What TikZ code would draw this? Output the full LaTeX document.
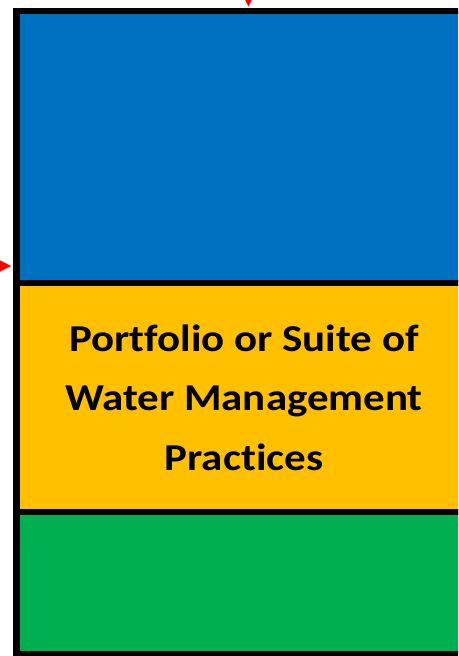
\documentclass[tikz,border=0pt]{standalone}
\usepackage{fontspec}
\setmainfont{Carlito}[FakeStretch=1.13, Ligatures={NoCommon}]
\usepackage{xcolor}
\usetikzlibrary{arrows.meta,positioning}

\definecolor{poolblue}{HTML}{0070C0}
\definecolor{poolyellow}{HTML}{FFC000}
\definecolor{poolgreen}{HTML}{00B050}
\definecolor{inred}{HTML}{FF0000}

\begin{document}
\begin{tikzpicture}[
    x=1pt, y=-1pt,
    layer/.style={rectangle, draw=black, line width=6.5pt, outer sep=0pt,
      inner sep=0pt, minimum width=520pt, anchor=north},
    arrow/.style={-{Triangle[width=12pt,length=12pt]}, draw=inred, fill=inred, line width=0.1pt}
]
    \useasboundingbox (0,0) rectangle (458,656);
    \clip (0,0) rectangle (458,656);

    \node[layer, fill=poolblue, minimum height=272pt, anchor=north west] (upper) at (16.5,11) {};
    \node[layer, fill=poolyellow, minimum height=229pt, below=0pt of upper] (suite)
      {};
    \node[layer, fill=poolgreen, minimum height=142pt, below=0pt of suite] (lower) {};

    \node[align=center, font=\bfseries\fontsize{38}{59.5}\selectfont] (label) at (244,397.5)
      {Portfolio or Suite of\\Water Management\\Practices};

    % incoming arrows
    \coordinate (topin) at (248.5,-10);
    \coordinate (leftin) at (-10,266);
    \draw[arrow, shorten >=4.5pt] (topin) -- (upper.north -| topin);
    \draw[arrow, shorten >=5.5pt] (leftin) -- (upper.west |- leftin);
\end{tikzpicture}
\end{document}
